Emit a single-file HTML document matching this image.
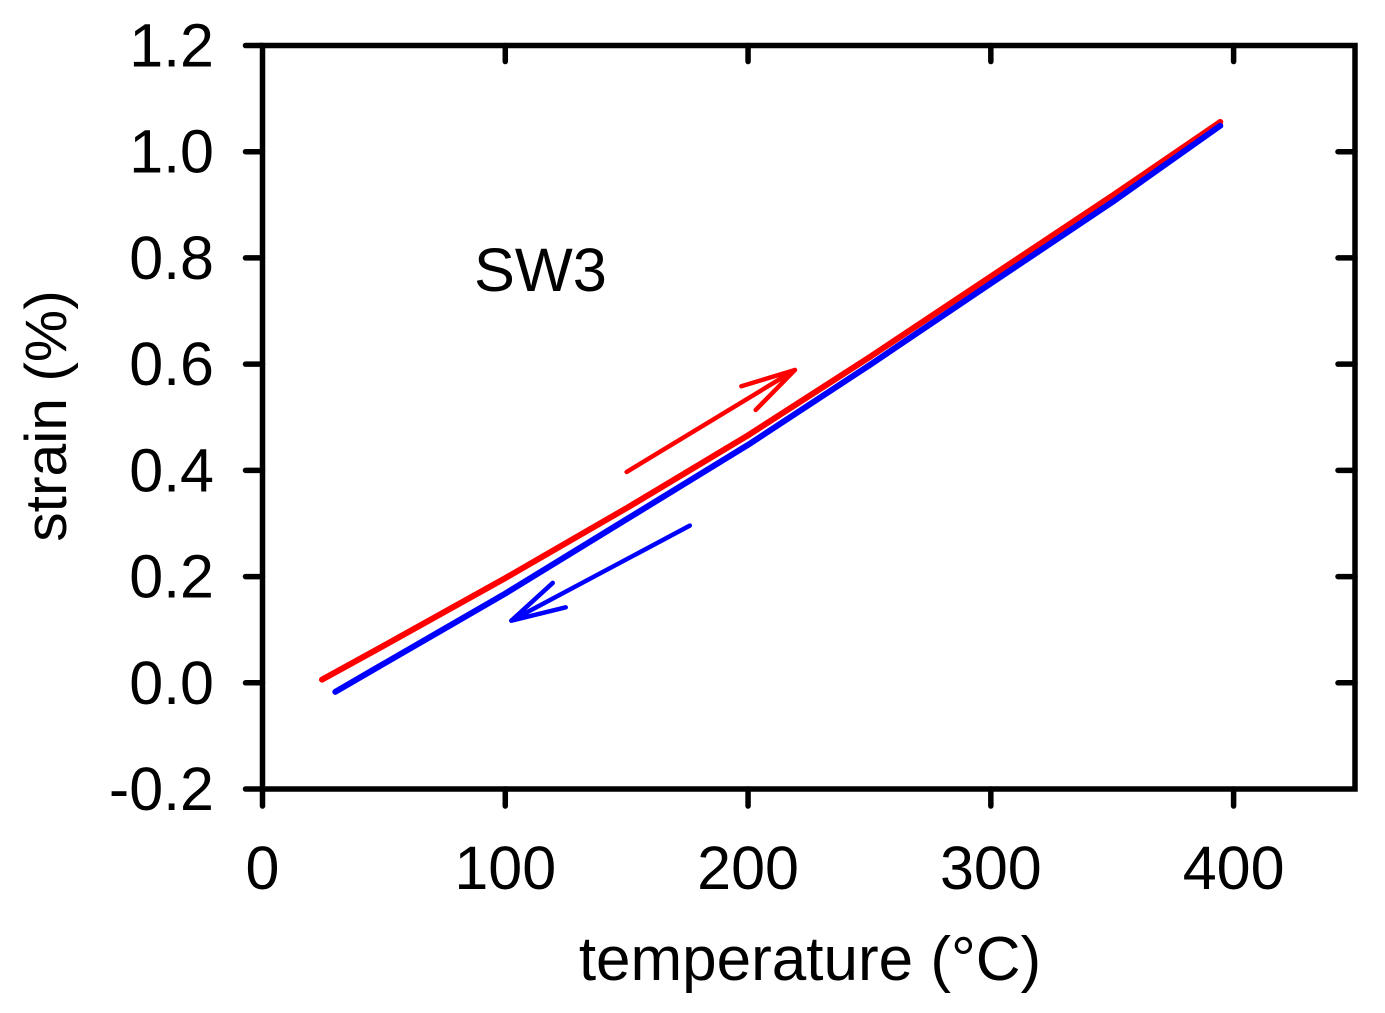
<!DOCTYPE html>
<html lang="en">
<head>
<meta charset="utf-8">
<title>Strain vs temperature (SW3)</title>
<style>
  html, body { margin: 0; padding: 0; background: #fff; }
  svg { display: block; font-family: "Liberation Sans", Arial, sans-serif; fill: #000; }
</style>
</head>
<body>
<svg id="chart" xmlns="http://www.w3.org/2000/svg" width="1385" height="1013" viewBox="0 0 1385 1013">
  <rect x="0" y="0" width="1385" height="1013" fill="#ffffff"></rect>
  <g id="series"></g>
  <g id="arrows"></g>
  <g id="axes"></g>
  <text x="474" y="291" font-size="61.3">SW3</text>
  <text x="810" y="980" font-size="62" text-anchor="middle">temperature (°C)</text>
  <text transform="translate(66,416) rotate(-90)" font-size="58.8" text-anchor="middle">strain (%)</text>
</svg>
<script>
const xTicks = [0, 100, 200, 300, 400];
const yTicks = [-0.2, 0, 0.2, 0.4, 0.6, 0.8, 1.0, 1.2];
const xTickLabels = ['0', '100', '200', '300', '400'];
const yTickLabels = ['-0.2', '0.0', '0.2', '0.4', '0.6', '0.8', '1.0', '1.2'];

const heatingTemp = [24.5, 50, 100, 150, 200, 250, 300, 350, 394.5];
const heatingStrain = [0.006, 0.070, 0.197, 0.329, 0.466, 0.613, 0.765, 0.917, 1.056];
const coolingTemp = [30, 50, 100, 150, 200, 250, 300, 350, 394.5];
const coolingStrain = [-0.017, 0.036, 0.168, 0.308, 0.448, 0.598, 0.752, 0.905, 1.049];

const heatingArrowTemp = [150, 219.3];
const heatingArrowStrain = [0.397, 0.589];
const coolingArrowTemp = [176, 102.5];
const coolingArrowStrain = [0.296, 0.117];

const xMin = 0, xMax = 450, yMin = -0.2, yMax = 1.2;
const plotLeft = 262.5, plotRight = 1355, plotTop = 45.5, plotBottom = 789;

function xScale(v) { return plotLeft + (v - xMin) / (xMax - xMin) * (plotRight - plotLeft); }
function yScale(v) { return plotBottom - (v - yMin) / (yMax - yMin) * (plotBottom - plotTop); }

const NS = 'http://www.w3.org/2000/svg';
function svgEl(tag, attrs, parent) {
  const el = document.createElementNS(NS, tag);
  for (const k in attrs) el.setAttribute(k, attrs[k]);
  parent.appendChild(el);
  return el;
}
function segment(parent, x1, y1, x2, y2, stroke, width) {
  return svgEl('line', { x1: x1, y1: y1, x2: x2, y2: y2, stroke: stroke, 'stroke-width': width, 'stroke-linecap': 'round' }, parent);
}

const axes = document.getElementById('axes');
const frame = svgEl('rect', { x: plotLeft, y: plotTop, width: plotRight - plotLeft, height: plotBottom - plotTop, fill: 'none', stroke: '#000', 'stroke-width': 5.5 }, axes);



xTicks.forEach(function (t, i) {
  const x = xScale(t);
  const tickBottom = segment(axes, x, plotBottom, x, plotBottom + 17, '#000', 5.5);
  
  
  if (t !== xMin) {
    const tickTop = segment(axes, x, plotTop, x, plotTop + 16, '#000', 5.5);
    
    
  }
  const label = svgEl('text', { x: x, y: 889, 'font-size': 61, 'text-anchor': 'middle' }, axes);
  label.textContent = xTickLabels[i];
  
  
});

yTicks.forEach(function (t, i) {
  const y = yScale(t);
  const tickLeft = segment(axes, plotLeft - 17, y, plotLeft, y, '#000', 5.5);
  
  
  if (t !== yMin && t !== yMax) {
    const tickRight = segment(axes, plotRight - 17, y, plotRight, y, '#000', 5.5);
    
    
  }
  const label = svgEl('text', { x: 214, y: y + 21, 'font-size': 61, 'text-anchor': 'end' }, axes);
  label.textContent = yTickLabels[i];
  
  
});

function polyPoints(xs, ys) {
  return xs.map(function (v, i) { return xScale(v).toFixed(2) + ',' + yScale(ys[i]).toFixed(2); }).join(' ');
}

const seriesLayer = document.getElementById('series');
const heatingLine = svgEl('polyline', { points: polyPoints(heatingTemp, heatingStrain), fill: 'none', stroke: '#ff0000', 'stroke-width': 6, 'stroke-linecap': 'round', 'stroke-linejoin': 'round' }, seriesLayer);


const coolingLine = svgEl('polyline', { points: polyPoints(coolingTemp, coolingStrain), fill: 'none', stroke: '#0000ff', 'stroke-width': 6, 'stroke-linecap': 'round', 'stroke-linejoin': 'round' }, seriesLayer);



function arrowHeadPath(x1, y1, x2, y2, headLength, headAngle) {
  const a = Math.atan2(y1 - y2, x1 - x2);
  const ax = x2 + headLength * Math.cos(a + headAngle), ay = y2 + headLength * Math.sin(a + headAngle);
  const bx = x2 + headLength * Math.cos(a - headAngle), by = y2 + headLength * Math.sin(a - headAngle);
  return 'M' + ax + ' ' + ay + 'L' + x2 + ' ' + y2 + 'L' + bx + ' ' + by;
}

const arrowLayer = document.getElementById('arrows');
const hx1 = xScale(heatingArrowTemp[0]), hy1 = yScale(heatingArrowStrain[0]);
const hx2 = xScale(heatingArrowTemp[1]), hy2 = yScale(heatingArrowStrain[1]);
const heatingShaft = segment(arrowLayer, hx1, hy1, hx2, hy2, '#ff0000', 4.5);


const heatingHead = svgEl('path', { d: arrowHeadPath(hx1, hy1, hx2, hy2, 56, 0.25), fill: 'none', stroke: '#ff0000', 'stroke-width': 4.5, 'stroke-linecap': 'round', 'stroke-linejoin': 'round' }, arrowLayer);



const cx1 = xScale(coolingArrowTemp[0]), cy1 = yScale(coolingArrowStrain[0]);
const cx2 = xScale(coolingArrowTemp[1]), cy2 = yScale(coolingArrowStrain[1]);
const coolingShaft = segment(arrowLayer, cx1, cy1, cx2, cy2, '#0000ff', 4.5);


const coolingHead = svgEl('path', { d: arrowHeadPath(cx1, cy1, cx2, cy2, 56, 0.25), fill: 'none', stroke: '#0000ff', 'stroke-width': 4.5, 'stroke-linecap': 'round', 'stroke-linejoin': 'round' }, arrowLayer);


</script>
</body>
</html>
